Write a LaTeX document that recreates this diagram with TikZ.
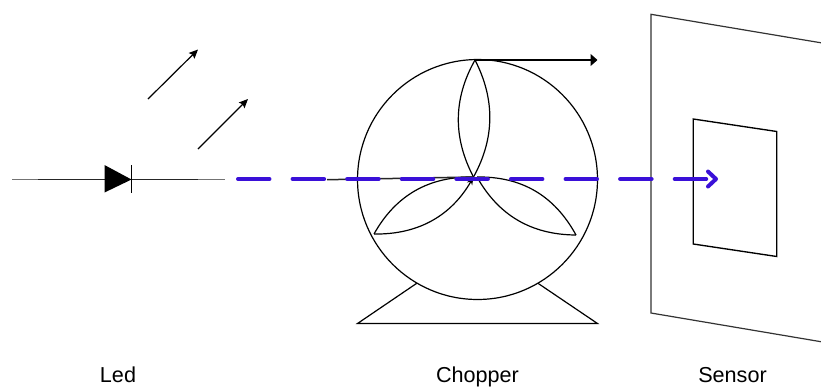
\documentclass[tikz,border=0pt]{standalone}
\usepackage{fontspec}
\setmainfont{Liberation Sans}
\usetikzlibrary{arrows.meta}

\begin{document}
\begin{tikzpicture}[x=0.02cm,y=-0.02cm,font=\fontsize{12.3}{14}\selectfont,
  thin line/.style={draw=black,line width=0.024cm},
  lead/.style={draw=black!55,line width=0.025cm},
  wire/.style={draw=black!85,line width=0.03cm},
  ray/.style={thin line,-{Stealth[length=1.8mm,width=1.6mm,inset=0.3mm]}},
  beam/.style={draw=beamblue,line width=0.08cm,line cap=round,
    dash pattern=on 0.63cm off 0.462cm},
  lbl/.style={anchor=base,inner sep=0pt}]
\definecolor{beamblue}{HTML}{3A10D8}
\useasboundingbox (0,0) rectangle (821,387);

% ---------- led ----------
\coordinate (L0) at (12,179.5);
\coordinate (L1) at (38,179.5);
\coordinate (L2) at (198,179.5);
\coordinate (L3) at (225,179.5);
\coordinate (LA) at (104.5,165);
\coordinate (LB) at (104.5,192.5);
\coordinate (LC) at (131.5,179.5);
\coordinate (LD) at (131.5,165);
\coordinate (LE) at (131.5,192.5);
\draw[lead] (L0) -- (L1);
\draw[wire] (L1) -- (L2);
\draw[lead] (L2) -- (L3);
\fill[black] (LA) -- (LC) -- (LB) -- cycle;
\draw[thin line] (LD) -- (LE);
\coordinate (R1a) at (148,99);
\coordinate (R1b) at (198,49.5);
\coordinate (R2a) at (198,149);
\coordinate (R2b) at (248,99);
\draw[ray] (R1a) -- (R1b);
\draw[ray] (R2a) -- (R2b);

% ---------- chopper ----------
\node[thin line,circle,minimum size=4.8cm,inner sep=0pt] (wheel) at (477.5,179.5) {};
\coordinate (top) at (475,60);
\coordinate (hub) at (473.5,177);
\coordinate (hubR) at (477,177);
\coordinate (tipL) at (374,234);
\coordinate (tipR) at (576,235);
\coordinate (spin) at (597.5,60);
\draw[thin line] (top) .. controls (453,99) and (453,138) .. (hub);
\draw[thin line] (top) .. controls (495,99) and (495,138) .. (hub);
\draw[thin line] (tipL) .. controls (395.7,195.3) and (428.7,176.3) .. (hub);
\draw[thin line,-{Stealth[length=1.6mm,width=1.2mm]}] (tipL) .. controls (418.3,234.7) and (451.3,215.7) .. (hub);
\draw[thin line] (tipR) .. controls (554.3,195.3) and (521.3,176.3) .. (hubR);
\draw[thin line] (tipR) .. controls (531.7,234.7) and (498.7,215.7) .. (hubR);
\draw[thin line,-{Triangle[length=1.4mm,width=2.4mm]}] (top) -- (spin);
\coordinate (footL) at (416.7,283.3);
\coordinate (footR) at (538,283.3);
\coordinate (baseL) at (357.5,323.5);
\coordinate (baseR) at (597.5,323.5);
\draw[thin line] (footL) -- (baseL) -- (baseR) -- (footR);

% ---------- sensor ----------
\coordinate (S1) at (651,14.3);
\coordinate (S2) at (821,42.8);
\coordinate (S3) at (651,313);
\coordinate (S4) at (821,341.7);
\draw[thin line,draw=black!80] (S2) -- (S1) -- (S3) -- (S4);
\coordinate (C1) at (693.3,119);
\coordinate (C2) at (776.8,131.5);
\coordinate (C3) at (776.8,256.5);
\coordinate (C4) at (693.3,244);
\draw[thin line,line width=0.027cm] (C1) -- (C2) -- (C3) -- (C4) -- cycle;

% ---------- beam ----------
\coordinate (B0) at (327,179.7);
\draw[wire] (B0) -- (hub);
\coordinate (B1) at (238,179);
\coordinate (B2) at (718,179);
\draw[beam,-{Straight Barb[length=1.6mm,width=3mm,round]}] (B1) -- (B2);

% labels
\node[lbl] (led) at (118,382.3) {Led};
\node[lbl] (chopper) at (477.5,382.3) {Chopper};
\node[lbl] (sensor) at (732.5,382.3) {Sensor};
\end{tikzpicture}
\end{document}
